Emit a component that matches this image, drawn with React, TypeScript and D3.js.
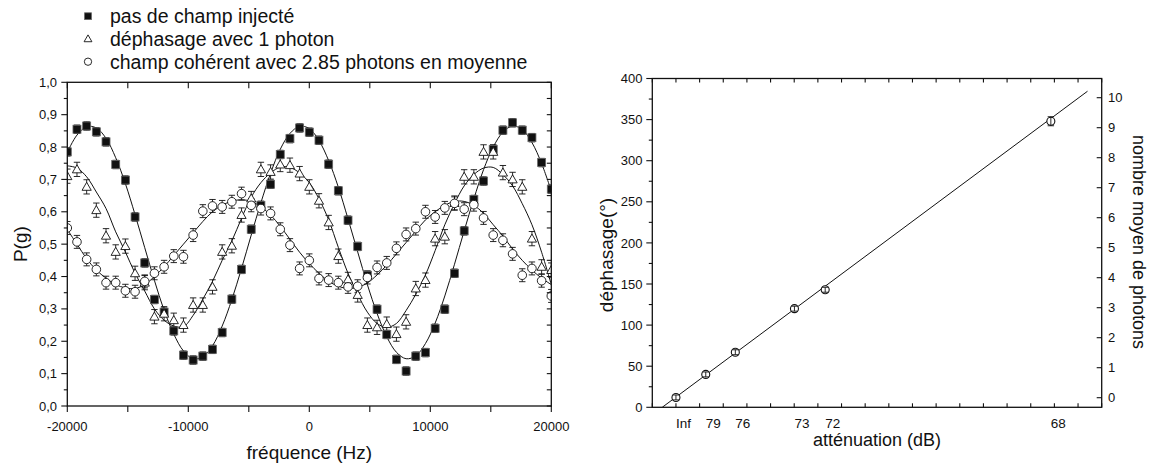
import React from "react";
import * as d3 from "d3";

// ---------- Left chart data ----------
const freq = [-20000,-19200,-18400,-17600,-16800,-16000,-15200,-14400,-13600,-12800,-12000,-11200,-10400,-9600,-8800,-8000,-7200,-6400,-5600,-4800,-4000,-3200,-2400,-1600,-800,0,800,1600,2400,3200,4000,4800,5600,6400,7200,8000,8800,9600,10400,11200,12000,12800,13600,14400,15200,16000,16800,17600,18400,19200,20000];

const pasDeChamp = [0.785,0.855,0.865,0.847,0.816,0.746,0.698,0.584,0.442,0.329,0.29,0.232,0.157,0.142,0.154,0.175,0.227,0.33,0.422,0.546,0.62,0.685,0.777,0.826,0.859,0.846,0.821,0.747,0.665,0.574,0.493,0.404,0.299,0.221,0.144,0.108,0.154,0.165,0.24,0.299,0.41,0.541,0.638,0.695,0.793,0.852,0.875,0.852,0.829,0.752,0.67];

const unPhoton = [0.71,0.731,0.677,0.605,0.526,0.476,0.494,0.41,0.381,0.276,0.285,0.265,0.25,0.312,0.312,0.368,0.476,0.495,0.59,0.641,0.731,0.723,0.746,0.744,0.718,0.677,0.634,0.567,0.463,0.391,0.343,0.25,0.243,0.253,0.222,0.26,0.363,0.389,0.517,0.523,0.627,0.708,0.708,0.785,0.785,0.721,0.7,0.677,0.517,0.43,0.42];

const coherent = [0.55,0.507,0.453,0.422,0.381,0.381,0.356,0.353,0.385,0.41,0.43,0.463,0.461,0.528,0.602,0.618,0.615,0.631,0.656,0.62,0.61,0.595,0.546,0.497,0.425,0.45,0.394,0.389,0.381,0.368,0.37,0.397,0.428,0.442,0.487,0.53,0.548,0.6,0.584,0.612,0.626,0.608,0.622,0.581,0.528,0.512,0.47,0.404,0.425,0.387,0.34];

const fitPasDeChamp = [0.784,0.837,0.863,0.859,0.827,0.767,0.687,0.591,0.489,0.388,0.296,0.222,0.17,0.146,0.152,0.186,0.247,0.329,0.425,0.528,0.628,0.719,0.793,0.842,0.864,0.857,0.82,0.758,0.676,0.578,0.476,0.375,0.286,0.214,0.166,0.146,0.155,0.193,0.256,0.34,0.438,0.541,0.64,0.73,0.8,0.846,0.865,0.854,0.814,0.749,0.664];
const fitUnPhoton = [0.742,0.735,0.708,0.661,0.61,0.538,0.476,0.41,0.355,0.3,0.265,0.247,0.245,0.28,0.33,0.385,0.45,0.51,0.58,0.645,0.69,0.72,0.738,0.737,0.72,0.69,0.64,0.575,0.49,0.41,0.345,0.29,0.255,0.243,0.255,0.295,0.345,0.405,0.48,0.56,0.625,0.68,0.715,0.735,0.737,0.715,0.68,0.625,0.56,0.475,0.375];
const fitCoherent = [0.545,0.5,0.455,0.42,0.395,0.375,0.365,0.363,0.375,0.4,0.43,0.465,0.5,0.535,0.57,0.6,0.62,0.633,0.637,0.632,0.615,0.59,0.555,0.515,0.475,0.44,0.41,0.385,0.37,0.363,0.367,0.38,0.405,0.435,0.47,0.505,0.54,0.575,0.6,0.62,0.632,0.632,0.62,0.595,0.56,0.525,0.485,0.45,0.42,0.395,0.375];

const errBars = [0.013, 0.022, 0.02];
const legendLabels = ["pas de champ injecté", "déphasage avec 1 photon", "champ cohérent avec 2.85 photons en moyenne"];
const xTicksLeft = [-20000, -10000, 0, 10000, 20000];

// ---------- Right chart data ----------
const attenLabels = ["Inf", "79", "76", "73", "72", "68"];
const puissance = [0, 1.26, 2.51, 5.01, 6.31, 15.85];
const dephasage = [12, 40, 67, 120, 143, 348];
const errDephasage = [3, 3, 3, 3, 3, 5.5];
const fitPuissance = [-0.58, 17.4];
const fitDephasage = [0, 384.5];
const leftTicksRight = [0, 50, 100, 150, 200, 250, 300, 350, 400];
const photonTicks = [0, 1, 2, 3, 4, 5, 6, 7, 8, 9, 10];

const FONT = "'Liberation Sans', Arial, Helvetica, sans-serif";

export default function App() {
  // left chart scales
  const xL = d3.scaleLinear().domain([-20000, 20000]).range([67.3, 551.3]);
  const yL = d3.scaleLinear().domain([0, 1]).range([406, 82.3]);
  // right chart scales
  const xR = d3.scaleLinear().domain([-1, 18]).range([652.3, 1101.7]);
  const yR = d3.scaleLinear().domain([0, 400]).range([407.3, 78.5]);
  const yPh = d3.scaleLinear().domain([0, 10]).range([397.7, 97.7]);

  const lineL = (vals: number[]) =>
    d3.line<number>().x((_, i) => xL(freq[i])).y((v) => yL(v)).curve(d3.curveCatmullRom)(vals) || "";

  const series = [pasDeChamp, unPhoton, coherent];
  const fits = [fitPasDeChamp, fitUnPhoton, fitCoherent];

  const minorX = d3.range(-20000, 20001, 5000);
  const yTicks = d3.range(0, 1.0001, 0.05);
  const fmt = (v: number) => d3.format(".1f")(v).replace(".", ",");

  const marker = (k: number, cx: number, cy: number, s = 1, key?: any) => {
    if (k === 0) {
      const h = 4 * s;
      return <rect key={key} x={cx - h} y={cy - h} width={2 * h} height={2 * h} fill="#111" stroke="#666" strokeWidth={0.8} />;
    }
    if (k === 1) {
      const h = 4.6 * s;
      const p = `M${cx},${cy - h} L${cx + h},${cy + h * 0.75} L${cx - h},${cy + h * 0.75} Z`;
      return <path key={key} d={p} fill="white" stroke="#111" strokeWidth={0.9} />;
    }
    return <circle key={key} cx={cx} cy={cy} r={4.3 * s} fill="white" stroke="#111" strokeWidth={0.9} />;
  };

  const errBar = (cx: number, y1: number, y2: number, key: any) => (
    <g key={key} stroke="#111" strokeWidth={0.9}>
      <line x1={cx} x2={cx} y1={y1} y2={y2} />
      <line x1={cx - 3.2} x2={cx + 3.2} y1={y1} y2={y1} />
      <line x1={cx - 3.2} x2={cx + 3.2} y1={y2} y2={y2} />
    </g>
  );

  const rTop = yR(400), rBot = yR(0), rLeft = xR(-1), rRight = xR(18);
  const unitTicks = d3.range(-1, 18.001, 1);

  return (
    <svg width={1150} height={466} style={{ position: "absolute", left: 0, top: 0, background: "white" }} fontFamily={FONT}>
      <defs>
        <clipPath id="clipL">
          <rect x={xL(-20000)} y={yL(1)} width={xL(20000) - xL(-20000)} height={yL(0) - yL(1)} />
        </clipPath>
        <clipPath id="clipR">
          <rect x={rLeft} y={rTop} width={rRight - rLeft} height={rBot - rTop} />
        </clipPath>
      </defs>

      {/* ---------- Legend ---------- */}
      {legendLabels.map((lab, k) => {
        const cy = [16.2, 38.8, 61.7][k];
        return (
          <g key={"lg" + k}>
            {marker(k, 88, cy, 0.85)}
            <text x={110} y={cy + 6.8} fontSize={19.5} fill="#111">{lab}</text>
          </g>
        );
      })}

      {/* ---------- Left chart ---------- */}
      <g clipPath="url(#clipL)">
        {fits.map((f, k) => (
          <path key={"fit" + k} d={lineL(f)} fill="none" stroke="#111" strokeWidth={1} />
        ))}
        {series.map((s, k) =>
          s.map((v, i) =>
            errBar(xL(freq[i]), yL(v + errBars[k]), yL(v - errBars[k]), `e${k}-${i}`)
          )
        )}
        {series.map((s, k) => s.map((v, i) => marker(k, xL(freq[i]), yL(v), 1, `m${k}-${i}`)))}
      </g>
      <rect x={xL(-20000)} y={yL(1)} width={xL(20000) - xL(-20000)} height={yL(0) - yL(1)} fill="none" stroke="#111" strokeWidth={1.3} />
      {minorX.map((t) => (
        <g key={"xt" + t} stroke="#111" strokeWidth={1.1}>
          <line x1={xL(t)} x2={xL(t)} y1={yL(0)} y2={yL(0) + 6} />
          <line x1={xL(t)} x2={xL(t)} y1={yL(1)} y2={yL(1) + 6} />
        </g>
      ))}
      {xTicksLeft.map((t) => (
        <text key={"xl" + t} x={xL(t)} y={431} fontSize={13} textAnchor="middle" fill="#111">{t}</text>
      ))}
      {yTicks.map((t, i) => (
        <g key={"yt" + i} stroke="#111" strokeWidth={1.1}>
          <line x1={xL(-20000) - (i % 2 === 0 ? 6 : 3.5)} x2={xL(-20000)} y1={yL(t)} y2={yL(t)} />
          <line x1={xL(20000) - 4.5} x2={xL(20000)} y1={yL(t)} y2={yL(t)} />
        </g>
      ))}
      {yTicks.filter((_, i) => i % 2 === 0).map((t, i) => (
        <text key={"yl" + i} x={57} y={yL(t) + 4.6} fontSize={13} textAnchor="end" fill="#111">{fmt(t)}</text>
      ))}
      <text x={309.3} y={459} fontSize={19} textAnchor="middle" fill="#111">fréquence (Hz)</text>
      <text transform={`translate(27,${yL(0.5)}) rotate(-90)`} fontSize={19} textAnchor="middle" fill="#111">P(g)</text>

      {/* ---------- Right chart ---------- */}
      <g clipPath="url(#clipR)">
        <line x1={xR(fitPuissance[0])} y1={yR(fitDephasage[0])} x2={xR(fitPuissance[1])} y2={yR(fitDephasage[1])} stroke="#111" strokeWidth={1} />
      </g>
      {puissance.map((p, i) => (
        <g key={"rp" + i}>
          <circle cx={xR(p)} cy={yR(dephasage[i])} r={4} fill="white" stroke="#111" strokeWidth={1.1} />
          {errBar(xR(p), yR(dephasage[i] + errDephasage[i]), yR(dephasage[i] - errDephasage[i]), "re" + i)}
        </g>
      ))}
      <rect x={rLeft} y={rTop} width={rRight - rLeft} height={rBot - rTop} fill="none" stroke="#111" strokeWidth={1.3} />
      {unitTicks.map((t) => (
        <g key={"ut" + t} stroke="#111" strokeWidth={1.1}>
          <line x1={xR(t)} x2={xR(t)} y1={rBot} y2={rBot - 4} />
          <line x1={xR(t)} x2={xR(t)} y1={rTop} y2={rTop + 4} />
        </g>
      ))}
      {d3.range(0, 401, 25).map((t, i) => (
        <line key={"lt" + t} x1={rLeft - (i % 2 === 0 ? 6 : 3.5)} x2={rLeft} y1={yR(t)} y2={yR(t)} stroke="#111" strokeWidth={1.1} />
      ))}
      {leftTicksRight.map((t) => (
        <text key={"ll" + t} x={642.5} y={yR(t) + 4.6} fontSize={13} textAnchor="end" fill="#111">{t}</text>
      ))}
      {photonTicks.map((t) => (
        <g key={"ph" + t}>
          <line x1={rRight - 5} x2={rRight} y1={yPh(t)} y2={yPh(t)} stroke="#111" strokeWidth={1.1} />
          <text x={1108} y={yPh(t) + 4.6} fontSize={13} fill="#111">{t}</text>
        </g>
      ))}
      {attenLabels.map((lab, i) => (
        <text key={"al" + i} x={xR(puissance[i])} y={428} fontSize={13.5} fill="#111">{lab}</text>
      ))}
      <text x={(rLeft + rRight) / 2} y={446} fontSize={18} textAnchor="middle" fill="#111">atténuation (dB)</text>
      <text transform={`translate(613,255) rotate(-90)`} fontSize={19} textAnchor="middle" fill="#111">déphasage(°)</text>
      <text transform={`translate(1133,242) rotate(90)`} fontSize={18} textAnchor="middle" fill="#111">nombre moyen de photons</text>
    </svg>
  );
}
